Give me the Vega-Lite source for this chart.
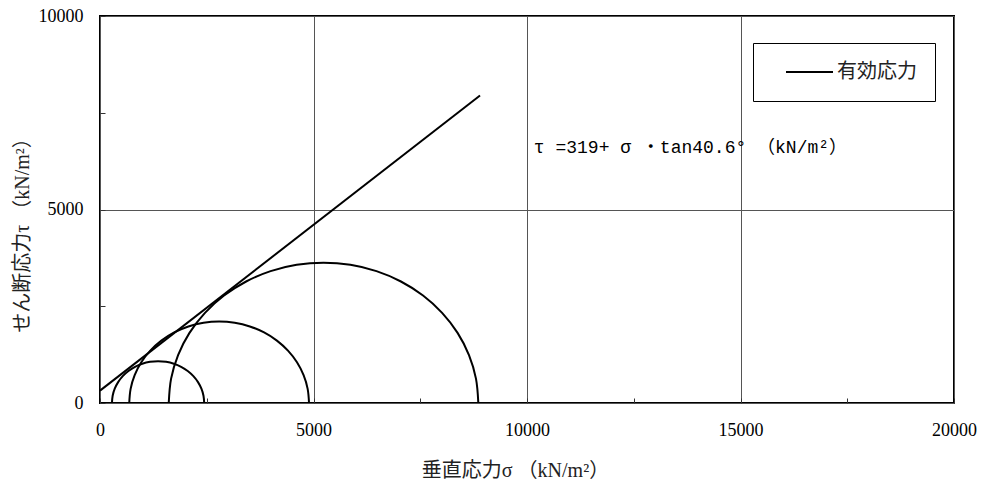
{
  "$schema": "https://vega.github.io/schema/vega-lite/v6.json",
  "autosize": {"type": "none"},
  "width": 854,
  "height": 387,
  "padding": {"left": 100, "top": 16, "right": 32, "bottom": 90},
  "background": "white",
  "datasets": {
    "circles": [
      {"c": "A", "i": 0, "s": 2440, "t": 0},
      {"c": "A", "i": 1, "s": 2423.6, "t": 187.5},
      {"c": "A", "i": 2, "s": 2374.9, "t": 369.4},
      {"c": "A", "i": 3, "s": 2295.3, "t": 540},
      {"c": "A", "i": 4, "s": 2187.3, "t": 694.2},
      {"c": "A", "i": 5, "s": 2054.2, "t": 827.3},
      {"c": "A", "i": 6, "s": 1900, "t": 935.3},
      {"c": "A", "i": 7, "s": 1729.4, "t": 1014.9},
      {"c": "A", "i": 8, "s": 1547.5, "t": 1063.6},
      {"c": "A", "i": 9, "s": 1360, "t": 1080},
      {"c": "A", "i": 10, "s": 1172.5, "t": 1063.6},
      {"c": "A", "i": 11, "s": 990.6, "t": 1014.9},
      {"c": "A", "i": 12, "s": 820, "t": 935.3},
      {"c": "A", "i": 13, "s": 665.8, "t": 827.3},
      {"c": "A", "i": 14, "s": 532.7, "t": 694.2},
      {"c": "A", "i": 15, "s": 424.7, "t": 540},
      {"c": "A", "i": 16, "s": 345.1, "t": 369.4},
      {"c": "A", "i": 17, "s": 296.4, "t": 187.5},
      {"c": "A", "i": 18, "s": 280, "t": 0},
      {"c": "B", "i": 0, "s": 4895, "t": 0},
      {"c": "B", "i": 1, "s": 4863, "t": 365.4},
      {"c": "B", "i": 2, "s": 4768.1, "t": 719.9},
      {"c": "B", "i": 3, "s": 4613, "t": 1052.5},
      {"c": "B", "i": 4, "s": 4402.4, "t": 1353.1},
      {"c": "B", "i": 5, "s": 4143.1, "t": 1612.4},
      {"c": "B", "i": 6, "s": 3842.5, "t": 1823},
      {"c": "B", "i": 7, "s": 3509.9, "t": 1978.1},
      {"c": "B", "i": 8, "s": 3155.4, "t": 2073},
      {"c": "B", "i": 9, "s": 2790, "t": 2105},
      {"c": "B", "i": 10, "s": 2424.6, "t": 2073},
      {"c": "B", "i": 11, "s": 2070.1, "t": 1978.1},
      {"c": "B", "i": 12, "s": 1737.5, "t": 1823},
      {"c": "B", "i": 13, "s": 1436.9, "t": 1612.4},
      {"c": "B", "i": 14, "s": 1177.6, "t": 1353.1},
      {"c": "B", "i": 15, "s": 967, "t": 1052.5},
      {"c": "B", "i": 16, "s": 811.9, "t": 719.9},
      {"c": "B", "i": 17, "s": 717, "t": 365.4},
      {"c": "B", "i": 18, "s": 685, "t": 0},
      {"c": "C", "i": 0, "s": 8860, "t": 0},
      {"c": "C", "i": 1, "s": 8804.9, "t": 629.3},
      {"c": "C", "i": 2, "s": 8641.4, "t": 1239.8},
      {"c": "C", "i": 3, "s": 8374.3, "t": 1812.5},
      {"c": "C", "i": 4, "s": 8011.8, "t": 2330.2},
      {"c": "C", "i": 5, "s": 7565.2, "t": 2776.8},
      {"c": "C", "i": 6, "s": 7047.5, "t": 3139.3},
      {"c": "C", "i": 7, "s": 6474.8, "t": 3406.4},
      {"c": "C", "i": 8, "s": 5864.3, "t": 3569.9},
      {"c": "C", "i": 9, "s": 5235, "t": 3625},
      {"c": "C", "i": 10, "s": 4605.7, "t": 3569.9},
      {"c": "C", "i": 11, "s": 3995.2, "t": 3406.4},
      {"c": "C", "i": 12, "s": 3422.5, "t": 3139.3},
      {"c": "C", "i": 13, "s": 2904.8, "t": 2776.8},
      {"c": "C", "i": 14, "s": 2458.2, "t": 2330.2},
      {"c": "C", "i": 15, "s": 2095.5, "t": 1812.5},
      {"c": "C", "i": 16, "s": 1828.6, "t": 1239.8},
      {"c": "C", "i": 17, "s": 1665.1, "t": 629.3},
      {"c": "C", "i": 18, "s": 1610, "t": 0}
    ],
    "envelope": [
      {"series": "有効応力", "s": 0, "t": 319},
      {"series": "有効応力", "s": 8900, "t": 7947}
    ],
    "note": [
      {"s": 10160, "t": 6600, "text": "τ =319+ σ ・tan40.6°  （kN/m²）"}
    ]
  },
  "layer": [
    {
      "data": {"name": "circles"},
      "mark": {"type": "line", "color": "black", "strokeWidth": 2, "interpolate": "catmull-rom"},
      "encoding": {
        "x": {
          "field": "s", "type": "quantitative",
          "scale": {"domain": [0, 20000], "nice": false},
          "axis": {
            "title": "垂直応力σ （kN/m²）",
            "values": [0, 2500, 5000, 7500, 10000, 12500, 15000, 17500, 20000],
            "format": "d",
            "labelFlush": false,
            "labelExpr": "datum.value % 5000 === 0 ? datum.label : ''",
            "titleX": 415, "titleY": 67, "titleAlign": "center", "titleBaseline": "middle",
            "labelPadding": 23
          }
        },
        "y": {
          "field": "t", "type": "quantitative",
          "scale": {"domain": [0, 10000], "nice": false},
          "axis": {
            "title": "せん断応力τ （kN/m²）",
            "values": [0, 2500, 5000, 7500, 10000],
            "format": "d",
            "labelFlush": false,
            "labelExpr": "datum.value % 5000 === 0 ? datum.label : ''",
            "titleX": -78, "titleY": 214, "titleAlign": "center", "titleBaseline": "middle", "titleAngle": -90,
            "labelPadding": 22
          }
        },
        "detail": {"field": "c", "type": "nominal"},
        "order": {"field": "i", "type": "quantitative"}
      }
    },
    {
      "data": {"name": "envelope"},
      "mark": {"type": "line", "strokeWidth": 2},
      "encoding": {
        "x": {"field": "s", "type": "quantitative"},
        "y": {"field": "t", "type": "quantitative"},
        "color": {
          "field": "series", "type": "nominal",
          "scale": {"domain": ["有効応力"], "range": ["black"]},
          "legend": {"title": null}
        }
      }
    },
    {
      "data": {"name": "note"},
      "mark": {"type": "text", "align": "left", "baseline": "middle", "font": "Liberation Mono, Noto Sans CJK JP", "fontSize": 18, "color": "black"},
      "encoding": {
        "x": {"field": "s", "type": "quantitative"},
        "y": {"field": "t", "type": "quantitative"},
        "text": {"field": "text", "type": "nominal"}
      }
    }
  ],
  "config": {
    "view": {"stroke": "black", "strokeWidth": 2},
    "axis": {
      "domain": false,
      "tickSize": -5,
      "tickColor": "#333",
      "tickWidth": 1,
      "grid": true,
      "gridColor": "#555",
      "gridWidth": 1,
      "gridOpacity": {"condition": {"test": "datum.value % 5000 === 0", "value": 1}, "value": 0},
      "labelFont": "Liberation Serif",
      "labelFontSize": 18,
      "labelColor": "black",
      "titleFont": "Liberation Serif, Noto Sans CJK JP",
      "titleFontSize": 20,
      "titleFontWeight": "normal",
      "titleColor": "#222"
    },
    "legend": {
      "orient": "none",
      "legendX": 653,
      "legendY": 27,
      "strokeColor": "black",
      "padding": 18,
      "symbolOffset": 14,
      "clipHeight": 22,
      "symbolType": "stroke",
      "symbolSize": 2209,
      "symbolStrokeWidth": 2,
      "symbolStrokeColor": "black",
      "labelFont": "Noto Sans CJK JP",
      "labelFontSize": 20,
      "labelColor": "#222",
      "labelOffset": 3
    }
  }
}
